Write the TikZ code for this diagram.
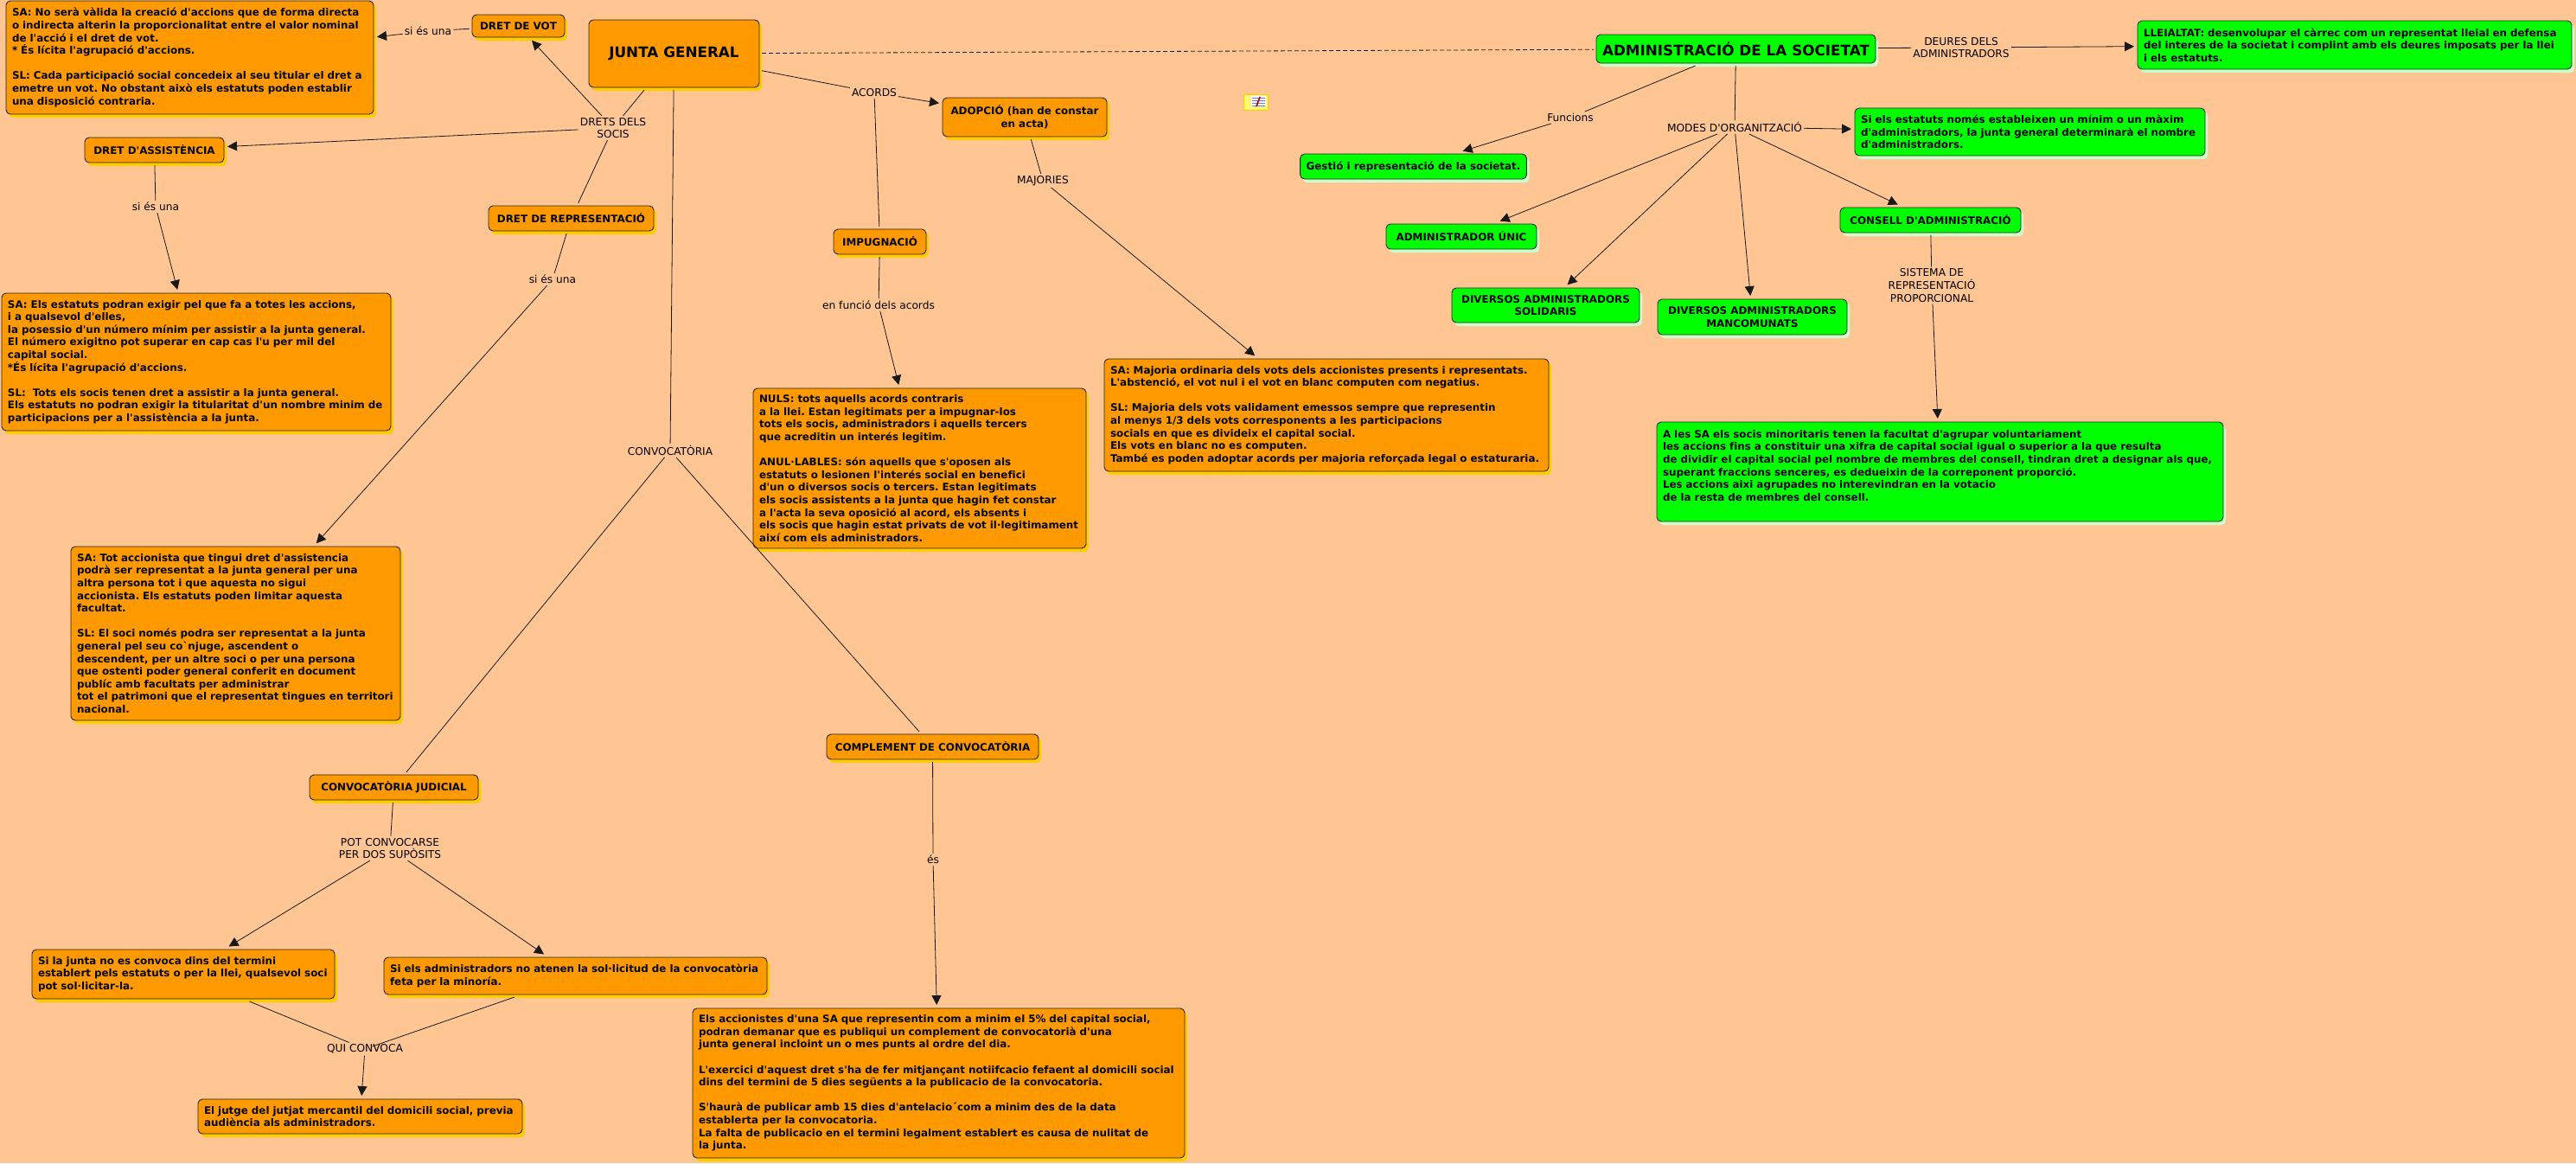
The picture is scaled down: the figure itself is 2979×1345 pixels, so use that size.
\documentclass[tikz,border=0pt]{standalone}
\usepackage{fontspec}
\usetikzlibrary{arrows.meta, shadows}
\newfontfamily\cmapfont[Ligatures=NoCommon]{DejaVu Sans}
\frenchspacing
\definecolor{pagebg}{HTML}{FFC693}
\definecolor{orangefill}{HTML}{FF9900}
\definecolor{orangeshade}{HTML}{FFCC00}
\definecolor{greenfill}{HTML}{00FF00}
\definecolor{greenshade}{HTML}{CCFFCC}
\tikzset{
  conceptbox/.style={draw=black!85, line width=0.9pt, rounded corners=5pt, inner xsep=7pt, inner ysep=0pt, outer sep=3pt, align=center, text=black, font=\cmapfont\bfseries\fontsize{11.9}{14.6}\selectfont},
  orangebox/.style={conceptbox, fill=orangefill, drop shadow={shadow xshift=3pt, shadow yshift=-4pt, fill=orangeshade, opacity=1}},
  greenbox/.style={conceptbox, fill=greenfill, drop shadow={shadow xshift=3pt, shadow yshift=-4pt, fill=greenshade, opacity=1}},
  textbox/.style={align=left},
  bigtext/.style={font=\cmapfont\bfseries\fontsize{16.8}{20}\selectfont},
  linkphrase/.style={inner sep=2pt, align=center, text=black, font=\cmapfont\fontsize{12.2}{14.6}\selectfont},
  conn/.style={line width=0.8pt, black!90},
  tip/.style={conn, ->, shorten >=1pt},
}
\begin{document}
\begin{tikzpicture}[x=1pt, y=-1pt, >={Triangle[length=11pt, width=11pt]}]
\path[use as bounding box, fill=pagebg] (0,0) rectangle (2979,1345);
\node[orangebox, bigtext, minimum width=197pt, minimum height=78pt] (junta) at (779.5,62) {JUNTA GENERAL};
\node[orangebox, minimum width=107pt, minimum height=26pt] (dretvot) at (599.5,30) {DRET DE VOT};
\node[orangebox, textbox, text width=411pt, minimum height=131pt] (votsa) at (219.5,66.5) {SA: No serà vàlida la creació d'accions que de forma directa\\
o indirecta alterin la proporcionalitat entre el valor nominal\\
de l'acció i el dret de vot.\\
{*} És lícita l'agrupació d'accions.\\
~\\
SL: Cada participació social concedeix al seu titular el dret a\\
emetre un vot. No obstant això els estatuts poden establir\\
una disposició contraria.};
\node[orangebox, minimum width=161pt, minimum height=29pt] (dretass) at (178.5,173.5) {DRET D'ASSISTÈNCIA};
\node[orangebox, minimum width=191pt, minimum height=29pt] (dretrep) at (660.5,252.5) {DRET DE REPRESENTACIÓ};
\node[orangebox, textbox, text width=436pt, minimum height=159pt] (asssa) at (227,418.5) {SA: Els estatuts podran exigir pel que fa a totes les accions,\\
i a qualsevol d'elles,\\
la posessio d'un número mínim per assistir a la junta general.\\
El número exigitno pot superar en cap cas l'u per mil del\\
capital social.\\
{*}És lícita l'agrupació d'accions.\\
~\\
SL:~ Tots els socis tenen dret a assistir a la junta general.\\
Els estatuts no podran exigir la titularitat d'un nombre minim de\\
participacions per a l'assistència a la junta.};
\node[orangebox, textbox, text width=367pt, minimum height=201pt] (repsa) at (272.5,732.5) {SA: Tot accionista que tingui dret d'assistencia\\
podrà ser representat a la junta general per una\\
altra persona tot i que aquesta no sigui\\
accionista. Els estatuts poden limitar aquesta\\
facultat.\\
~\\
SL: El soci només podra ser representat a la junta\\
general pel seu co`njuge, ascendent o\\
descendent, per un altre soci o per una persona\\
que ostenti poder general conferit en document\\
publíc amb facultats per administrar\\
tot el patrimoni que el representat tingues en territori\\
nacional.};
\node[orangebox, minimum width=195pt, minimum height=29pt] (convjud) at (455.5,910.5) {CONVOCATÒRIA JUDICIAL};
\node[orangebox, textbox, text width=336pt, minimum height=57pt] (sijunta) at (212,1126.5) {Si la junta no es convoca dins del termini\\
establert pels estatuts o per la llei, qualsevol soci\\
pot sol·licitar-la.};
\node[orangebox, textbox, text width=429pt, minimum height=43pt] (siadmin) at (665.5,1128.5) {Si els administradors no atenen la sol·licitud de la convocatòria\\
feta per la minoría.};
\node[orangebox, textbox, text width=361pt, minimum height=40pt] (jutge) at (416.5,1291) {El jutge del jutjat mercantil del domicili social, previa\\
audiència als administradors.};
\node[orangebox, minimum width=245pt, minimum height=29pt] (compl) at (1078.5,863.5) {COMPLEMENT DE CONVOCATÒRIA};
\node[orangebox, textbox, text width=555pt, minimum height=173pt] (accion) at (1085.5,1252.5) {Els accionistes d'una SA que representin com a minim el 5\% del capital social,\\
podran demanar que es publiqui un complement de convocatorià d'una\\
junta general incloint un o mes punts al ordre del dia.\\
~\\
L'exercici d'aquest dret s'ha de fer mitjançant notiifcacio fefaent al domicili social\\
dins del termini de 5 dies següents a la publicacio de la convocatoria.\\
~\\
S'haurà de publicar amb 15 dies d'antelacio´com a minim des de la data\\
establerta per la convocatoria.\\
La falta de publicacio en el termini legalment establert es causa de nulitat de\\
la junta.};
\node[orangebox, minimum width=190pt, minimum height=45pt] (adopcio) at (1185,135.5) {ADOPCIÓ (han de constar\\ en acta)};
\node[orangebox, minimum width=107pt, minimum height=29pt] (impug) at (1017.5,279.5) {IMPUGNACIÓ};
\node[orangebox, textbox, text width=371pt, minimum height=185pt] (nuls) at (1063.5,541.5) {NULS: tots aquells acords contraris\\
a la llei. Estan legitimats per a impugnar-los\\
tots els socis, administradors i aquells tercers\\
que acreditin un interés legitim.\\
~\\
ANUL·LABLES: són aquells que s'oposen als\\
estatuts o lesionen l'interés social en benefici\\
d'un o diversos socis o tercers. Estan legitimats\\
els socis assistents a la junta que hagin fet constar\\
a l'acta la seva oposició al acord, els absents i\\
els socis que hagin estat privats de vot il·legitimament\\
així com els administradors.};
\node[orangebox, textbox, text width=500pt, minimum height=130pt] (majoria) at (1534,480) {SA: Majoria ordinaria dels vots dels accionistes presents i representats.\\
L'abstenció, el vot nul i el vot en blanc computen com negatius.\\
~\\
SL: Majoria dels vots validament emessos sempre que representin\\
al menys 1/3 dels vots corresponents a les participacions\\
socials en que es divideix el capital social.\\
Els vots en blanc no es computen.\\
També es poden adoptar acords per majoria reforçada legal o estaturaria.};
\node[greenbox, bigtext, minimum width=323pt, minimum height=33pt] (admin) at (2007.5,56.5) {ADMINISTRACIÓ DE LA SOCIETAT};
\node[greenbox, textbox, text width=488pt, minimum height=56pt] (lleial) at (2723,52) {LLEIALTAT: desenvolupar el càrrec com un representat lleial en defensa\\
del interes de la societat i complint amb els deures imposats per la llei\\
i els estatuts.};
\node[greenbox, minimum width=261pt, minimum height=29pt] (gestio) at (1634.5,192.5) {Gestió i representació de la societat.};
\node[greenbox, minimum width=174pt, minimum height=29pt] (adunic) at (1690,273.5) {ADMINISTRADOR ÚNIC};
\node[greenbox, minimum width=217pt, minimum height=40pt] (solid) at (1787.5,353) {DIVERSOS ADMINISTRADORS\\ SOLIDARIS};
\node[greenbox, minimum width=219pt, minimum height=41pt] (manc) at (2026.5,366.5) {DIVERSOS ADMINISTRADORS\\ MANCOMUNATS};
\node[greenbox, minimum width=209pt, minimum height=29pt] (consell) at (2232.5,254.5) {CONSELL D'ADMINISTRACIÓ};
\node[greenbox, textbox, text width=391pt, minimum height=55pt] (siest) at (2347.5,152.5) {Si els estatuts només estableixen un mínim o un màxim\\
d'administradors, la junta general determinarà el nombre\\
d'administradors.};
\node[greenbox, textbox, text width=641pt, minimum height=115pt] (ales) at (2243.5,545.5) {A les SA els socis minoritaris tenen la facultat d'agrupar voluntariament\\
les accions fins a constituir una xifra de capital social igual o superior a la que resulta\\
de dividir el capital social pel nombre de membres del consell, tindran dret a designar als que,\\
superant fraccions senceres, es dedueixin de la correponent proporció.\\
Les accions aixi agrupades no interevindran en la votacio\\
de la resta de membres del consell.\\
~};
\node[linkphrase] (siuna) at (495,36) {si és una};
\node[linkphrase] (drets) at (709,148) {DRETS DELS\\ SOCIS};
\node[linkphrase] (siunb) at (180,239) {si és una};
\node[linkphrase] (siunc) at (639,323) {si és una};
\node[linkphrase] (convoc) at (775,521) {CONVOCATÒRIA};
\node[linkphrase] (potconv) at (451,981) {POT CONVOCARSE\\ PER DOS SUPÒSITS};
\node[linkphrase] (quiconv) at (422,1213) {QUI CONVOCA};
\node[linkphrase] (esl) at (1079,994) {és};
\node[linkphrase] (acords) at (1011,107) {ACORDS};
\node[linkphrase] (funcio) at (1016,352.5) {en funció dels acords};
\node[linkphrase] (majors) at (1206,209) {MAJORIES};
\node[linkphrase] (funcions) at (1816,136) {Funcions};
\node[linkphrase] (modes) at (2006,147) {MODES D'ORGANITZACIÓ};
\node[linkphrase] (deures) at (2268,55) {DEURES DELS\\ ADMINISTRADORS};
\node[linkphrase] (sistema) at (2234,330) {SISTEMA DE\\ REPRESENTACIÓ\\ PROPORCIONAL};
\draw[conn] (dretvot) -- (siuna);
\draw[tip] (siuna) -- (votsa);
\draw[conn] (junta) -- (drets);
\draw[tip] (drets) -- (dretvot);
\draw[tip] (drets) -- (dretass);
\draw[conn] (drets) -- (dretrep);
\draw[conn] (dretass) -- (siunb);
\draw[tip] (siunb) -- (asssa);
\draw[conn] (dretrep) -- (siunc);
\draw[tip] (siunc) -- (repsa);
\draw[conn] (junta) -- (convoc);
\draw[conn] (convoc) -- (convjud);
\draw[conn] (convoc) -- (compl);
\draw[conn] (convjud) -- (potconv);
\draw[tip] (potconv) -- (sijunta);
\draw[tip] (potconv) -- (siadmin);
\draw[conn] (sijunta) -- (quiconv);
\draw[conn, shorten >=9pt] (siadmin) -- (quiconv.center);
\draw[tip] (quiconv) -- (jutge);
\draw[conn] (compl) -- (esl);
\draw[tip] (esl) -- (accion);
\draw[conn] (junta) -- (acords);
\draw[tip] (acords) -- (adopcio);
\draw[conn] (acords) -- (impug);
\draw[conn] (impug) -- (funcio);
\draw[tip] (funcio) -- (nuls);
\draw[conn] (adopcio) -- (majors);
\draw[tip] (majors) -- (majoria);
\draw[conn, dash pattern=on 5pt off 3pt] (junta) -- (admin);
\draw[conn] (admin) -- (funcions);
\draw[tip] (funcions) -- (gestio);
\draw[conn] (admin) -- (modes);
\draw[tip] (modes) -- (siest);
\draw[tip] (modes) -- (adunic);
\draw[tip] (modes) -- (solid);
\draw[tip] (modes) -- (manc);
\draw[tip] (modes) -- (consell);
\draw[conn] (consell) -- (sistema);
\draw[tip] (sistema) -- (ales);
\draw[conn] (admin) -- (deures);
\draw[tip] (deures) -- (lleial);
\node[draw=orangeshade, fill=yellow!55, minimum width=28pt, minimum height=18pt, inner sep=0pt, line width=0.8pt, font=\cmapfont\fontsize{6}{6}\selectfont, text depth=0pt] (noteicon) at (1452.5,118) {a\hspace{16pt}};
\fill[white] (1447,111) rectangle (1464,123);
\foreach \ly in {113,116,119,122} \draw[blue!55, line width=0.8pt] (1448,\ly) -- (1463,\ly);
\draw[red!70!black, line width=1.6pt] (1453,123) -- (1457,112);
\end{tikzpicture}
\end{document}
